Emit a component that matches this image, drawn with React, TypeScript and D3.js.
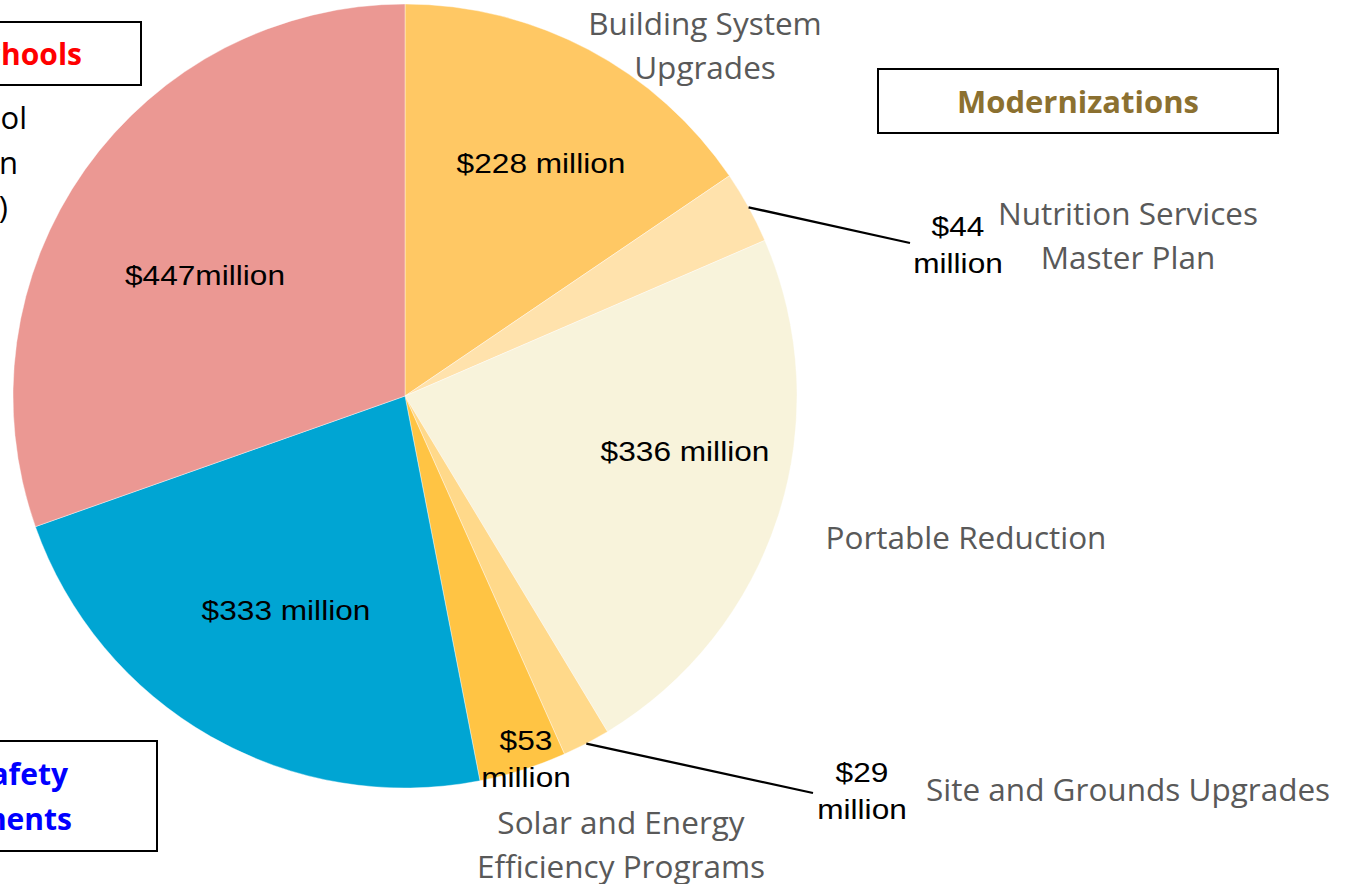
import React from 'react';
import * as d3 from 'd3';

// slices, clockwise from 12 o'clock
const categories = [
  'Building System Upgrades',
  'Nutrition Services Master Plan',
  'Portable Reduction',
  'Site and Grounds Upgrades',
  'Solar and Energy Efficiency Programs',
  'Safety Improvements',
  'New Schools',
];
const values = [228, 44, 336, 29, 53, 333, 447];
const valueLabels = [
  ['$228 million'],
  ['$44', 'million'],
  ['$336 million'],
  ['$29', 'million'],
  ['$53', 'million'],
  ['$333 million'],
  ['$447million'],
];
const colors = ['#FFC864', '#FFE2AC', '#F8F3DB', '#FFD98A', '#FFC444', '#00A5D3', '#EB9893'];

const W = 1359;
const H = 884;
const cx = 405;
const cy = 396;
const R = 392;

const VALUE_FONT = 'Liberation Sans, Arial, sans-serif';
const CAT_FONT = '"Open Sans", Carlito, Calibri, sans-serif';

// where the value text sits
const valuePos: [number, number][] = [
  [541, 173],
  [958, 236],
  [685, 461],
  [862, 782],
  [526, 750],
  [286, 620],
  [205, 285],
];
// category names outside the pie
const catLabels: { lines: string[]; x: number; y: number; anchor: string }[] = [
  { lines: ['Building System', 'Upgrades'], x: 705, y: 35, anchor: 'middle' },
  { lines: ['Nutrition Services', 'Master Plan'], x: 1128, y: 225, anchor: 'middle' },
  { lines: ['Portable Reduction'], x: 966, y: 549, anchor: 'middle' },
  { lines: ['Site and Grounds Upgrades'], x: 926, y: 801, anchor: 'start' },
  { lines: ['Solar and Energy', 'Efficiency Programs'], x: 621, y: 834, anchor: 'middle' },
];
// leader lines: slice index -> label end
const leaders: { idx: number; x: number; y: number }[] = [
  { idx: 1, x: 910, y: 243 },
  { idx: 3, x: 813, y: 793 },
];

export default function App() {
  const pie = d3.pie<number>().sort(null).value(d => d).startAngle(0).endAngle(2 * Math.PI);
  const arcs = pie(values);
  const arc = d3.arc<d3.PieArcDatum<number>>().innerRadius(0).outerRadius(R);

  return (
    <svg width={W} height={H} style={{ position: 'absolute', left: 0, top: 0, background: '#fff' }}>
      <g transform={`translate(${cx},${cy})`}>
        {arcs.map((a, i) => (
          <path key={i} d={arc(a) || ''} fill={colors[i]} stroke="#ffffff" strokeOpacity={0.5} strokeWidth={0.8} />
        ))}
      </g>

      {leaders.map((l, k) => {
        const a = arcs[l.idx];
        const mid = (a.startAngle + a.endAngle) / 2;
        const x1 = cx + R * Math.sin(mid);
        const y1 = cy - R * Math.cos(mid);
        return <line key={k} x1={x1} y1={y1} x2={l.x} y2={l.y} stroke="#000" strokeWidth={2.3} />;
      })}

      {valueLabels.map((lines, i) => (
        <text
          key={i}
          fontFamily={VALUE_FONT}
          fontSize={28}
          fill="#000"
          textAnchor="middle"
          transform={`translate(${valuePos[i][0]},${valuePos[i][1]}) scale(1.13,1)`}
        >
          {lines.map((t, j) => (
            <tspan key={j} x={0} y={j * 37}>{t}</tspan>
          ))}
        </text>
      ))}

      {catLabels.map((c, i) => (
        <text key={i} fontFamily={CAT_FONT} fontSize={31.5} fill="#595959" textAnchor={c.anchor}>
          {c.lines.map((t, j) => (
            <tspan key={j} x={c.x} y={c.y + j * 44}>{t}</tspan>
          ))}
        </text>
      ))}

      {/* group boxes */}
      <rect x={-20} y={22} width={161} height={63} fill="#fff" stroke="#000" strokeWidth={2} />
      <text x={82} y={65} textAnchor="end" fontFamily={CAT_FONT} fontWeight="bold" fontSize={30} fill="#FF0000">New Schools</text>
      <text fontFamily={CAT_FONT} fontSize={31} fill="#000" textAnchor="end">
        <tspan x={27} y={129}>New school</tspan>
        <tspan x={18} y={174}>construction</tspan>
        <tspan x={8} y={218}>(3 schools)</tspan>
      </text>

      <rect x={-20} y={741} width={177} height={110} fill="#fff" stroke="#000" strokeWidth={2} />
      <text fontFamily={CAT_FONT} fontWeight="bold" fontSize={30} fill="#0000FF" textAnchor="end">
        <tspan x={68} y={785}>Health and Safety</tspan>
        <tspan x={72} y={830}>Improvements</tspan>
      </text>

      <rect x={878} y={69} width={400} height={64} fill="#fff" stroke="#000" strokeWidth={2} />
      <text x={1078} y={113} textAnchor="middle" fontFamily={CAT_FONT} fontWeight="bold" fontSize={31} fill="#8B7030">Modernizations</text>
    </svg>
  );
}
